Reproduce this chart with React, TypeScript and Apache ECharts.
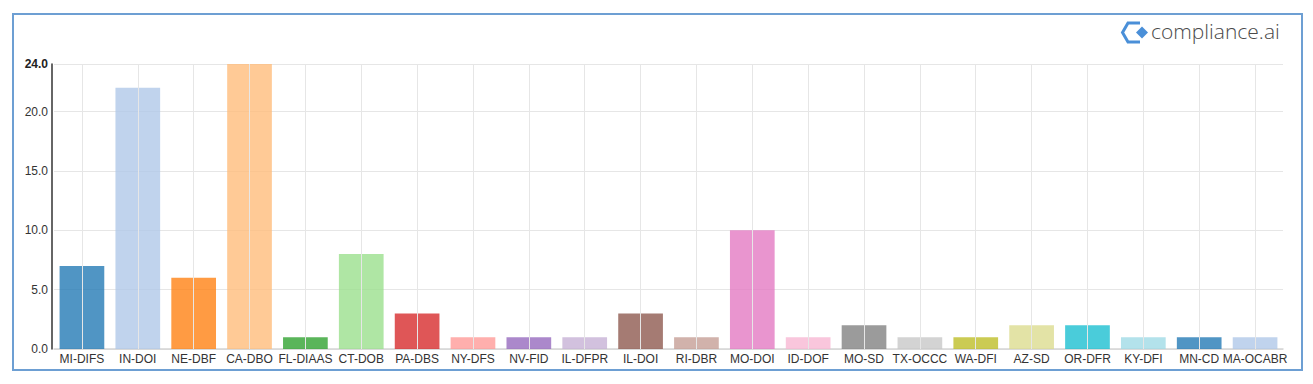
import React, { useEffect, useRef } from "react";
import * as echarts from "echarts";

const categories = [
  "MI-DIFS", "IN-DOI", "NE-DBF", "CA-DBO", "FL-DIAAS", "CT-DOB", "PA-DBS", "NY-DFS",
  "NV-FID", "IL-DFPR", "IL-DOI", "RI-DBR", "MO-DOI", "ID-DOF", "MO-SD", "TX-OCCC",
  "WA-DFI", "AZ-SD", "OR-DFR", "KY-DFI", "MN-CD", "MA-OCABR",
];
const values = [7, 22, 6, 24, 1, 8, 3, 1, 1, 1, 3, 1, 10, 1, 2, 1, 1, 2, 2, 1, 1, 1];
const palette = [
  "#1f77b4", "#aec7e8", "#ff7f0e", "#ffbb78", "#2ca02c", "#98df8a", "#d62728", "#ff9896",
  "#9467bd", "#c5b0d5", "#8c564b", "#c49c94", "#e377c2", "#f7b6d2", "#7f7f7f", "#c7c7c7",
  "#bcbd22", "#dbdb8d", "#17becf", "#9edae5",
];
const yTicks = [0, 5, 10, 15, 20, 24];

export default function App() {
  const ref = useRef<HTMLDivElement>(null);
  useEffect(() => {
    if (!ref.current) return;
    const chart = echarts.init(ref.current, null, { renderer: "svg" });
    const labelFont = "Liberation Sans, Arial, sans-serif";
    chart.setOption({
      animation: false,
      grid: { left: 54, right: 30, top: 64, bottom: 35, containLabel: false },
      graphic: [
        {
          type: "rect",
          shape: { x: 13, y: 14, width: 1289, height: 356 },
          style: { fill: "none", stroke: "#6d9fd3", lineWidth: 2 },
          z: 0,
        },
        {
          type: "polyline",
          shape: { points: [[1140, 23], [1128, 23], [1122.5, 32.5], [1128, 42], [1140, 42]] },
          style: { fill: "none", stroke: "#4a8fd8", lineWidth: 3 },
        },
        {
          type: "polygon",
          shape: { points: [[1136, 32.5], [1142, 26.5], [1148, 32.5], [1142, 38.5]] },
          style: { fill: "#4a8fd8" },
        },
        {
          type: "text",
          x: 1151,
          y: 20,
          style: {
            text: "compliance.ai",
            fontFamily: "Open Sans",
            fontWeight: 300,
            fontSize: 21,
            fill: "#4a4a4a",
          },
        },
      ],
      xAxis: {
        type: "category",
        data: categories,
        axisLine: { lineStyle: { color: "#d4d4d4", width: 1.5 } },
        axisTick: { show: false },
        axisLabel: {
          interval: 0,
          color: "#333",
          fontSize: 12,
          fontFamily: labelFont,
          margin: 4,
        },
        splitLine: { show: false },
      },
      yAxis: {
        type: "value",
        min: 0,
        max: 24,
        interval: 5,
        offset: 2,
        axisLine: { show: true, lineStyle: { color: "#333", width: 1.5 } },
        axisTick: { show: false },
        axisLabel: {
          color: "#333",
          fontSize: 12,
          fontFamily: labelFont,
          margin: 4,
          showMaxLabel: true,
          formatter: (v: number) =>
            v === 24 ? "{b|24.0}" : yTicks.includes(v) ? v.toFixed(1) : "",
          rich: {
            b: { fontWeight: "bold", color: "#222", fontSize: 12, fontFamily: labelFont },
          },
        },
        splitLine: { show: true, lineStyle: { color: "#e6e6e6", width: 1 } },
      },
      series: [
        {
          type: "line",
          z: 1,
          data: [],
          silent: true,
          showSymbol: false,
          markLine: {
            symbol: "none",
            silent: true,
            label: { show: false },
            lineStyle: { color: "#e6e6e6", type: "solid", width: 1 },
            data: categories.map((c) => ({ xAxis: c })),
          },
        },
        {
          type: "bar",
          z: 2,
          barWidth: "80%",
          data: values.map((v, i) => ({
            value: v,
            itemStyle: { color: palette[i % palette.length], opacity: 0.78 },
          })),
        },
      ],
    });
    return () => chart.dispose();
  }, []);
  return (
    <div
      ref={ref}
      style={{ position: "fixed", left: 0, top: 0, width: 1313, height: 384, background: "#fff" }}
    />
  );
}
